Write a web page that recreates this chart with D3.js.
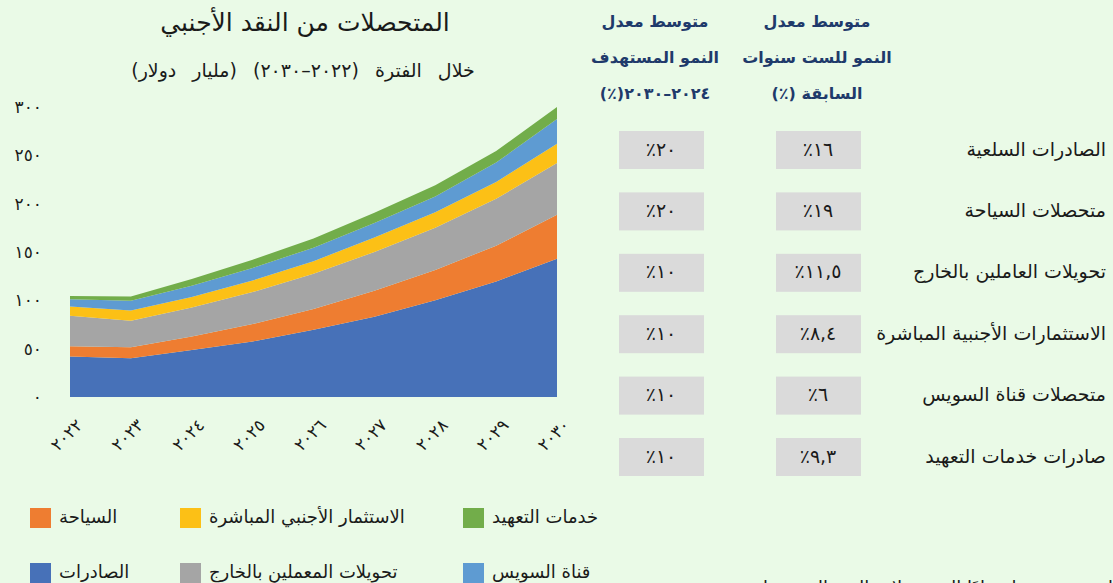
<!DOCTYPE html>
<html lang="ar">
<head>
    <meta charset="UTF-8">
    <title>المتحصلات من النقد الأجنبي</title>
    <script src="https://d3js.org/d3.v7.min.js"></script>
    <style>
        * { margin: 0; padding: 0; box-sizing: border-box; }
        body {
            background: #eafae7;
            font-family: "DejaVu Sans", sans-serif;
            overflow: hidden;
        }
        svg { display: block; }
    </style>
</head>
<body>
    <div id="chart"></div>
    <script>
        // data (billion $)
        const years = ["2022", "2023", "2024", "2025", "2026", "2027", "2028", "2029", "2030"];
        const exportsVals   = [42, 40, 48.5, 57.5, 69.5, 83, 100, 119.5, 143];
        const tourismVals   = [10.5, 11.5, 14, 18, 21.5, 27, 31.5, 37, 45.5];
        const remitVals     = [31.5, 27.5, 30, 33, 36.5, 40, 43.5, 48.5, 53.5];
        const fdiVals       = [9.5, 10.5, 11, 12, 13, 15, 16, 17.5, 20];
        const suezVals      = [7.5, 10, 11.5, 13, 14, 15, 16.5, 20, 25.5];
        const outsourceVals = [3.5, 4.5, 7, 8.5, 9.5, 10.5, 11.5, 12, 12.5];
        const yTicks = [0, 50, 100, 150, 200, 250, 300];

        const seriesKeys = ["exports", "tourism", "remit", "fdi", "suez", "outsource"];
        const seriesColors = ["#4771b8", "#ee7d31", "#a5a5a5", "#fcc016", "#5e9bd2", "#72ad4a"];

        // legend (row 1 / row 2, left to right)
        const legendRow1 = ["السياحة", "الاستثمار الأجنبي المباشرة", "خدمات التعهيد"];
        const legendRow1Keys = ["tourism", "fdi", "outsource"];
        const legendRow2 = ["الصادرات", "تحويلات المعملين بالخارج", "قناة السويس"];
        const legendRow2Keys = ["exports", "remit", "suez"];

        // table
        const rowLabels = ["الصادرات السلعية", "متحصلات السياحة", "تحويلات العاملين بالخارج",
                           "الاستثمارات الأجنبية المباشرة", "متحصلات قناة السويس", "صادرات خدمات التعهيد"];
        const pastGrowth = ["16", "19", "11,5", "8,4", "6", "9,3"];
        const targetGrowth = ["20", "20", "10", "10", "10", "10"];
        const headerPast = ["متوسط معدل", "النمو للست سنوات", "السابقة (٪)"];
        const headerTarget = ["متوسط معدل", "النمو المستهدف", "٢٠٢٤–٢٠٣٠(٪)"];

        const toArabicDigits = s => String(s).replace(/[0-9]/g, d => "٠١٢٣٤٥٦٧٨٩"[+d]);

        const W = 1113, H = 583;
        const svg = d3.select("#chart").append("svg")
            .attr("width", W).attr("height", H);

        const data = years.map((y, i) => ({
            year: y,
            exports: exportsVals[i],
            tourism: tourismVals[i],
            remit: remitVals[i],
            fdi: fdiVals[i],
            suez: suezVals[i],
            outsource: outsourceVals[i]
        }));

        const x = d3.scalePoint().domain(years).range([70, 557]);
        const y = d3.scaleLinear().domain([0, 300]).range([397, 107]);
        const color = d3.scaleOrdinal().domain(seriesKeys).range(seriesColors);

        const stacked = d3.stack().keys(seriesKeys)(data);
        const area = d3.area()
            .x(d => x(d.data.year))
            .y0(d => y(d[0]))
            .y1(d => y(d[1]));

        svg.append("g").selectAll("path")
            .data(stacked)
            .join("path")
            .attr("d", area)
            .attr("fill", d => color(d.key));

        // title
        svg.append("text")
            .attr("x", 305).attr("y", 31)
            .attr("text-anchor", "middle")
            .attr("direction", "rtl")
            .style("font-size", "25px")
            .style("fill", "#1a1a1a")
            .text("المتحصلات من النقد الأجنبي");

        svg.append("text")
            .attr("x", 303).attr("y", 77)
            .attr("text-anchor", "middle")
            .attr("direction", "rtl")
            .style("font-size", "19px")
            .style("word-spacing", "10px")
            .style("fill", "#1a1a1a")
            .text("خلال الفترة (٢٠٢٢–٢٠٣٠) (مليار دولار)");

        // y axis
        const yAxis = svg.append("g")
            .attr("transform", "translate(45,0)")
            .call(d3.axisLeft(y).tickValues(yTicks).tickSize(0).tickPadding(3)
                .tickFormat(d => toArabicDigits(d)));
        yAxis.select(".domain").remove();
        yAxis.selectAll("text")
            .style("font-size", "17px")
            .style("font-family", "DejaVu Sans, sans-serif")
            .style("fill", "#1a1a1a");

        // x axis
        const xAxis = svg.append("g")
            .attr("transform", "translate(0,397)")
            .call(d3.axisBottom(x).tickSize(0).tickFormat(d => toArabicDigits(d)));
        xAxis.select(".domain").remove();
        xAxis.selectAll("text")
            .attr("x", 0).attr("y", 0).attr("dy", "0.35em")
            .attr("text-anchor", "end")
            .attr("transform", "translate(9,25) rotate(-45)")
            .style("font-size", "17px")
            .style("font-family", "DejaVu Sans, sans-serif")
            .style("fill", "#1a1a1a");

        // legend
        const legendX = [30, 180, 463];
        const legendY = [518, 573];
        [[legendRow1, legendRow1Keys], [legendRow2, legendRow2Keys]].forEach(([labels, keys], r) => {
            labels.forEach((lab, i) => {
                svg.append("rect")
                    .attr("x", legendX[i]).attr("y", legendY[r] - 10)
                    .attr("width", 21).attr("height", 20)
                    .attr("fill", color(keys[i]));
                svg.append("text")
                    .attr("x", legendX[i] + 29).attr("y", legendY[r])
                    .attr("dominant-baseline", "middle")
                    .style("font-size", "18px")
                    .style("fill", "#1a1a1a")
                    .text(lab);
            });
        });

        // table headers
        const headColor = "#1f3a6b";
        const headY = [22, 58, 94];
        [[headerPast, 817], [headerTarget, 655]].forEach(([lines, cx]) => {
            lines.forEach((ln, i) => {
                svg.append("text")
                    .attr("x", cx).attr("y", headY[i])
                    .attr("text-anchor", "middle")
                    .attr("dominant-baseline", "middle")
                    .attr("direction", "rtl")
                    .style("font-size", "16px")
                    .style("font-weight", "bold")
                    .style("fill", headColor)
                    .text(ln);
            });
        });

        // table rows
        const rowY = d3.scalePoint().domain(d3.range(rowLabels.length)).range([150, 457]);
        rowLabels.forEach((lab, i) => {
            const cy = rowY(i);
            svg.append("text")
                .attr("x", 1106).attr("y", cy)
                .attr("text-anchor", "end")
                .attr("dominant-baseline", "middle")
                .style("font-size", "19px")
                .style("fill", "#1a1a1a")
                .text(lab);
            [[pastGrowth[i], 818], [targetGrowth[i], 661]].forEach(([v, cx]) => {
                svg.append("rect")
                    .attr("x", cx - 42).attr("y", cy - 19)
                    .attr("width", 85).attr("height", 38)
                    .attr("fill", "#dadada");
                svg.append("text")
                    .attr("x", cx).attr("y", cy)
                    .attr("text-anchor", "middle")
                    .attr("dominant-baseline", "middle")
                    .attr("direction", "rtl")
                    .style("font-size", "19px")
                    .style("fill", "#1a1a1a")
                    .text(toArabicDigits(v) + "٪");
            });
        });

        // footnote cut by the bottom edge
        svg.append("text")
            .attr("x", 1118).attr("y", 594)
            .attr("text-anchor", "end")
            .style("font-size", "18px")
            .style("fill", "#1a1a1a")
            .text("القيم تقديرية استنادًا إلى معدلات النمو المتوسطة");
    </script>
</body>
</html>
